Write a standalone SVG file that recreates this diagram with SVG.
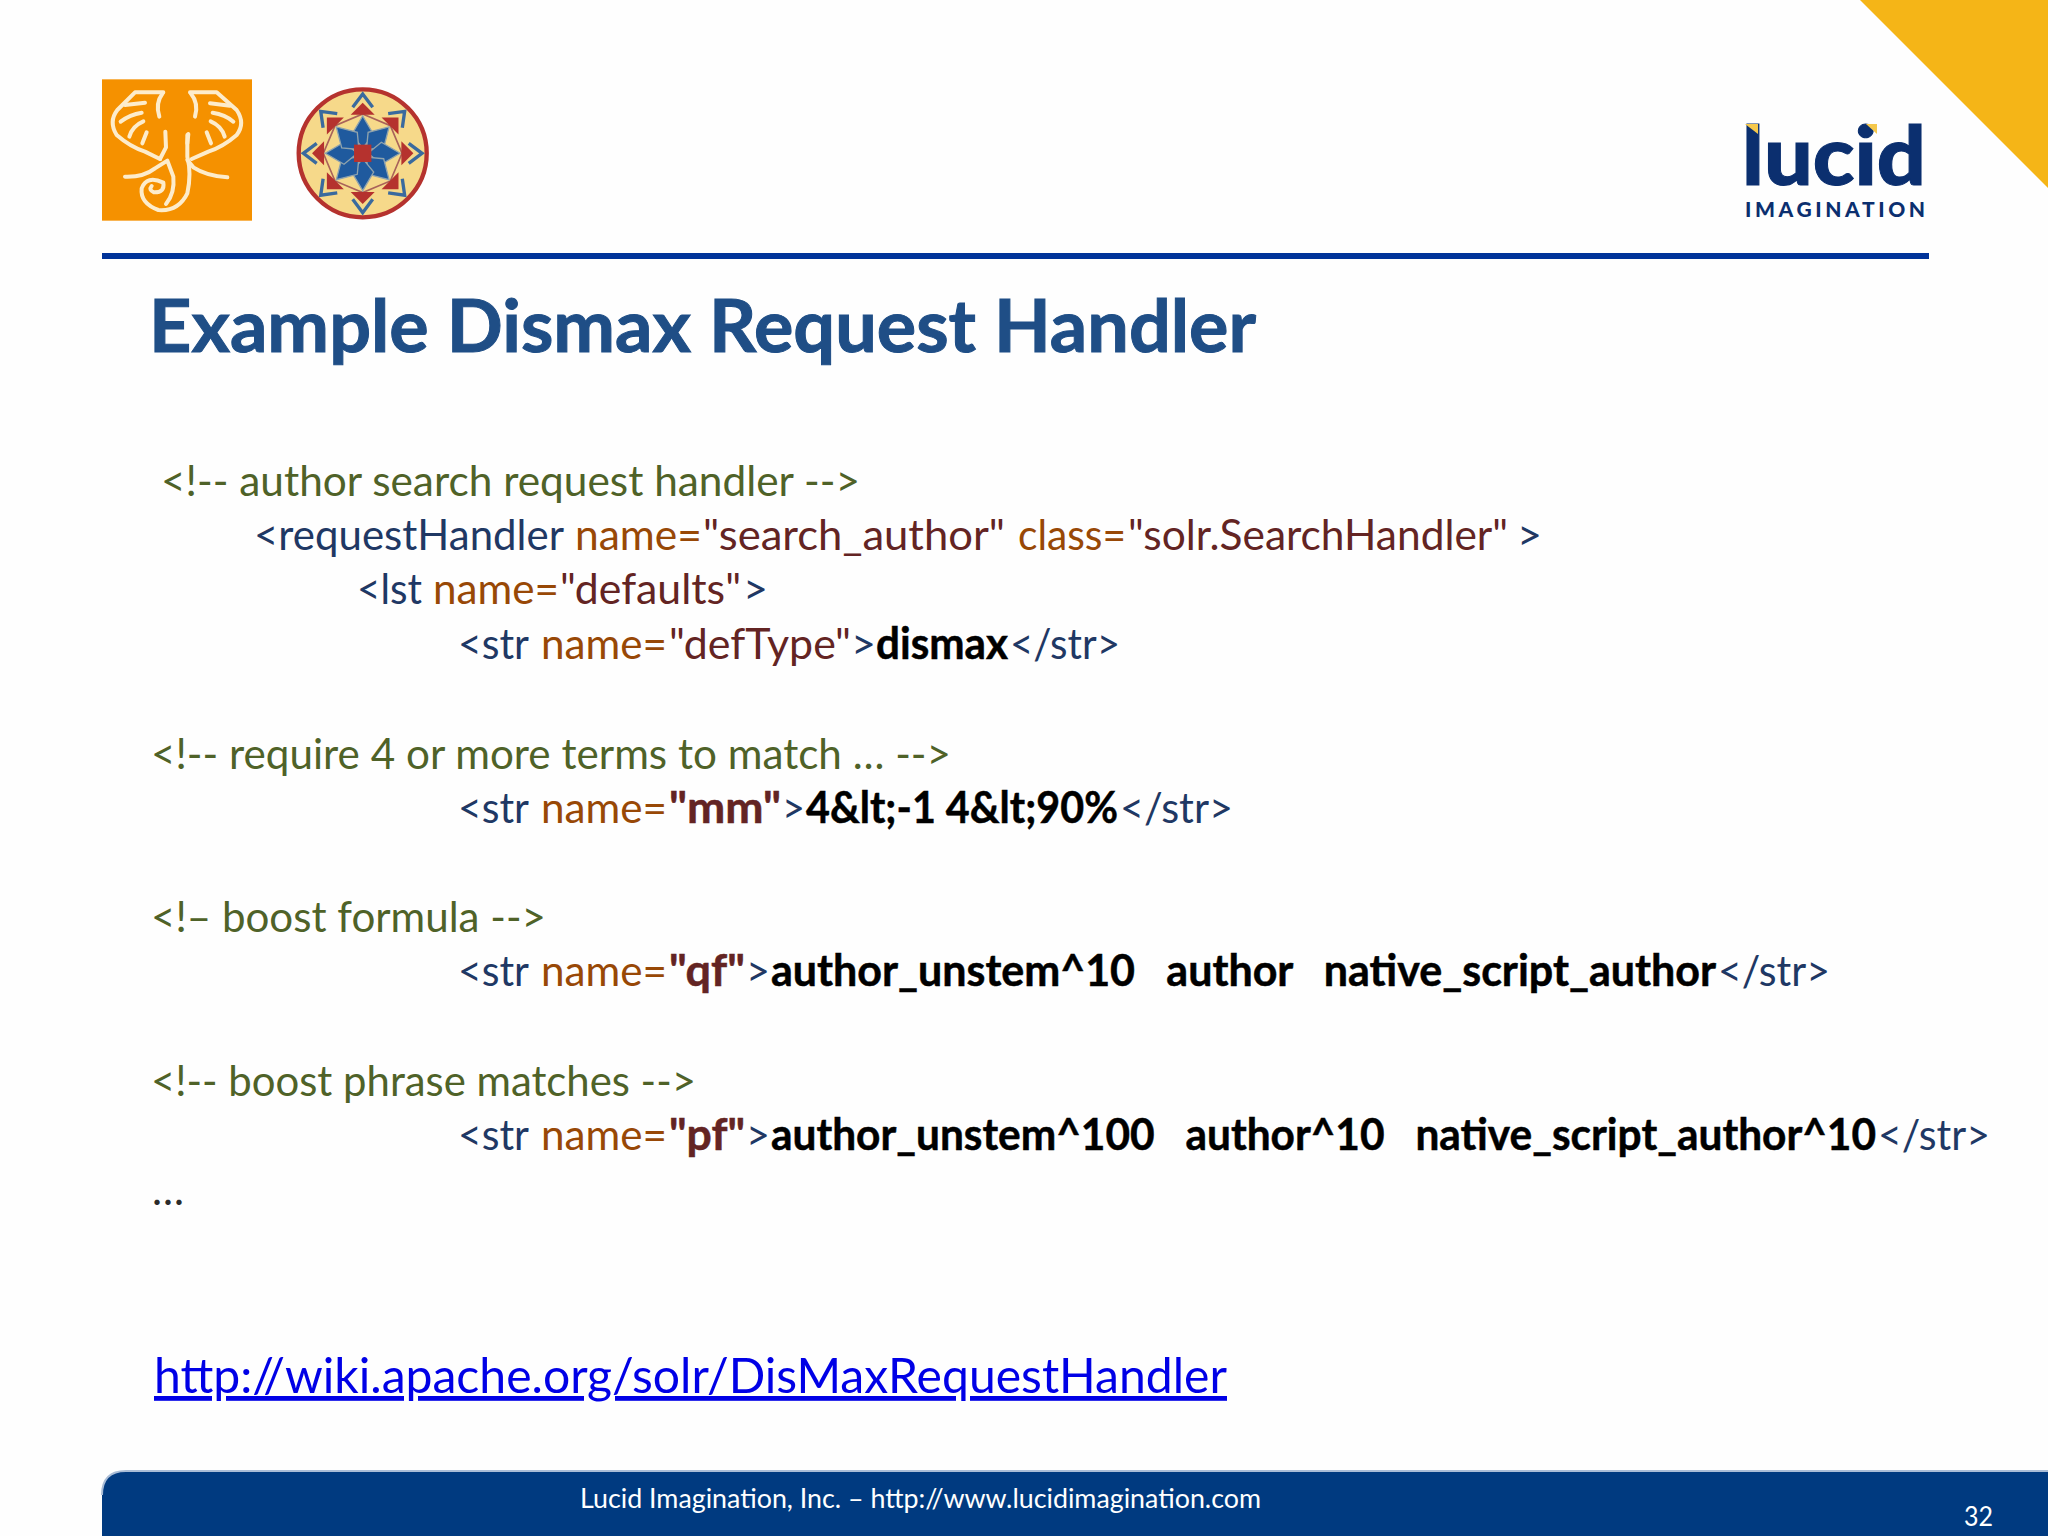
<svg xmlns="http://www.w3.org/2000/svg" width="2048" height="1536" viewBox="0 0 2048 1536">
<style>
text{font-family:"Lato","Carlito","Open Sans",sans-serif;white-space:pre}
.b{font-size:43px}
.c{fill:#4f6228}.t{fill:#1f3864}.a{fill:#984806}.v{fill:#632423}.k{fill:#000;font-weight:700;stroke:#000;stroke-width:.5px}.vb{fill:#632423;font-weight:700;stroke:#632423;stroke-width:.5px}
.ele{fill:none;stroke:#fdeccb;stroke-width:12;stroke-linecap:round;stroke-linejoin:round}
</style>
<defs>
<g id="m-pet"><polygon points="0,-16 -33,-56 0,-112 33,-56" fill="#1f5a9e" stroke="#8fa3ad" stroke-width="4"/></g>
<g id="m-spk">
<polygon points="0,-152 -36,-116 36,-116" fill="#b5322e"/>
<path d="M-30,-138 L0,-178 L30,-138" fill="none" stroke="#3a6a9e" stroke-width="10"/>
</g>
</defs>
<rect width="2048" height="1536" fill="#fefefe"/>
<polygon id="corner" points="1860,0 2048,0 2048,188" fill="#f5b517"/>

<g id="elephant" transform="translate(80,60) scale(.33333)">
<rect x="66" y="58" width="450" height="424" fill="#f59100"/>
<path class="ele" d="M250,97 L165,97 L112,150 Q85,185 110,225 Q150,260 195,275 L240,297"/>
<path class="ele" d="M248,100 Q225,130 238,170 M256,215 L258,262 L240,297"/>
<path class="ele" d="M135,135 L195,128 M122,185 Q150,163 185,158 M148,230 Q157,198 190,184 M187,250 L200,217"/>
<path class="ele" d="M135,350 Q190,352 225,325 L262,302 L280,350 Q285,400 258,432"/>
<path class="ele" d="M322,225 L322,290 Q335,340 322,400 Q295,455 235,450 Q180,430 185,385 Q200,345 250,368 Q255,398 222,397 Q205,390 215,378"/>
<path class="ele" d="M330,97 L410,97 L470,150 Q497,190 470,225 Q430,260 385,275 L335,297"/>
<path class="ele" d="M332,100 Q357,130 345,170 M325,222 L322,250"/>
<path class="ele" d="M390,130 L450,137 M398,158 Q435,163 460,185 M392,184 Q425,198 434,230 M380,217 L393,250"/>
<path class="ele" d="M442,352 Q380,348 340,322 L322,300"/>
</g>

<g id="medallion" transform="translate(362.7,153.3) scale(.33333)">
<circle r="192" fill="#f6d98a" stroke="#b5322e" stroke-width="13"/>
<polygon points="0,-118 83,-83 118,0 83,83 0,118 -83,83 -118,0 -83,-83" fill="none" stroke="#a9625a" stroke-width="5"/>
<use href="#m-spk"/><use href="#m-spk" transform="rotate(45)"/><use href="#m-spk" transform="rotate(90)"/><use href="#m-spk" transform="rotate(135)"/><use href="#m-spk" transform="rotate(180)"/><use href="#m-spk" transform="rotate(225)"/><use href="#m-spk" transform="rotate(270)"/><use href="#m-spk" transform="rotate(315)"/>
<use href="#m-pet"/><use href="#m-pet" transform="rotate(45)"/><use href="#m-pet" transform="rotate(90)"/><use href="#m-pet" transform="rotate(135)"/><use href="#m-pet" transform="rotate(180)"/><use href="#m-pet" transform="rotate(225)"/><use href="#m-pet" transform="rotate(270)"/><use href="#m-pet" transform="rotate(315)"/>
<rect x="-26" y="-26" width="52" height="52" fill="#b5322e"/>
</g>

<g id="logo">
<text x="1742" y="185" font-size="82" font-weight="900" fill="#0b2f6f" stroke="#0b2f6f" stroke-width="1" textLength="184" lengthAdjust="spacingAndGlyphs">lucid</text>
<polygon points="1745,124 1758,124 1758,134" fill="#f5c84c"/>
<polygon points="1866,124 1877,124 1877,134" fill="#f5c84c"/>
<text x="1745" y="217" font-size="21" font-weight="900" fill="#0b2f6f" textLength="180" lengthAdjust="spacing">IMAGINATION</text>
</g>

<rect id="rule" x="102" y="253" width="1827" height="6" fill="#003399"/>

<text id="title" x="149" y="352" font-size="72" font-weight="700" fill="#1f4e86" stroke="#1f4e86" stroke-width="1" textLength="1107" lengthAdjust="spacingAndGlyphs">Example Dismax Request Handler</text>

<g id="code">
<text class="b c" x="161" y="496" textLength="699" lengthAdjust="spacingAndGlyphs">&lt;!-- author search request handler --&gt;</text>

<text class="b t" x="254" y="550" textLength="310" lengthAdjust="spacingAndGlyphs">&lt;requestHandler</text>
<text class="b a" x="575" y="550" textLength="127" lengthAdjust="spacingAndGlyphs">name=</text>
<text class="b v" x="703" y="550" textLength="302" lengthAdjust="spacingAndGlyphs">"search_author"</text>
<text class="b a" x="1018" y="550" textLength="108" lengthAdjust="spacingAndGlyphs">class=</text>
<text class="b v" x="1128" y="550" textLength="380" lengthAdjust="spacingAndGlyphs">"solr.SearchHandler"</text>
<text class="b t" x="1517" y="550" textLength="25" lengthAdjust="spacingAndGlyphs">&gt;</text>

<text class="b t" x="357" y="604" textLength="65" lengthAdjust="spacingAndGlyphs">&lt;lst</text>
<text class="b a" x="433" y="604" textLength="126" lengthAdjust="spacingAndGlyphs">name=</text>
<text class="b v" x="560" y="604" textLength="181" lengthAdjust="spacingAndGlyphs">"defaults"</text>
<text class="b t" x="743" y="604" textLength="25" lengthAdjust="spacingAndGlyphs">&gt;</text>

<text class="b t" x="458" y="659" textLength="71" lengthAdjust="spacingAndGlyphs">&lt;str</text>
<text class="b a" x="541" y="659" textLength="126" lengthAdjust="spacingAndGlyphs">name=</text>
<text class="b v" x="669" y="659" textLength="182" lengthAdjust="spacingAndGlyphs">"defType"</text>
<text class="b t" x="851" y="659" textLength="25" lengthAdjust="spacingAndGlyphs">&gt;</text>
<text class="b k" x="876" y="659" textLength="132" lengthAdjust="spacingAndGlyphs">dismax</text>
<text class="b t" x="1010" y="659" textLength="110" lengthAdjust="spacingAndGlyphs">&lt;/str&gt;</text>

<text class="b c" x="151" y="769" textLength="800" lengthAdjust="spacingAndGlyphs">&lt;!-- require 4 or more terms to match … --&gt;</text>

<text class="b t" x="458" y="823" textLength="71" lengthAdjust="spacingAndGlyphs">&lt;str</text>
<text class="b a" x="541" y="823" textLength="126" lengthAdjust="spacingAndGlyphs">name=</text>
<text class="b vb" x="669" y="823" textLength="112" lengthAdjust="spacingAndGlyphs">"mm"</text>
<text class="b t" x="782" y="823" textLength="23" lengthAdjust="spacingAndGlyphs">&gt;</text>
<text class="b k" x="806" y="823" textLength="312" lengthAdjust="spacingAndGlyphs">4&amp;lt;-1 4&amp;lt;90%</text>
<text class="b t" x="1120" y="823" textLength="113" lengthAdjust="spacingAndGlyphs">&lt;/str&gt;</text>

<text class="b c" x="151" y="932" textLength="395" lengthAdjust="spacingAndGlyphs">&lt;!– boost formula --&gt;</text>

<text class="b t" x="458" y="986" textLength="71" lengthAdjust="spacingAndGlyphs">&lt;str</text>
<text class="b a" x="541" y="986" textLength="126" lengthAdjust="spacingAndGlyphs">name=</text>
<text class="b vb" x="669" y="986" textLength="76" lengthAdjust="spacingAndGlyphs">"qf"</text>
<text class="b t" x="746" y="986" textLength="24" lengthAdjust="spacingAndGlyphs">&gt;</text>
<text class="b k" x="771" y="986" textLength="945" lengthAdjust="spacingAndGlyphs">author_unstem^10   author   native_script_author</text>
<text class="b t" x="1718" y="986" textLength="112" lengthAdjust="spacingAndGlyphs">&lt;/str&gt;</text>

<text class="b c" x="151" y="1096" textLength="545" lengthAdjust="spacingAndGlyphs">&lt;!-- boost phrase matches --&gt;</text>

<text class="b t" x="458" y="1150" textLength="71" lengthAdjust="spacingAndGlyphs">&lt;str</text>
<text class="b a" x="541" y="1150" textLength="126" lengthAdjust="spacingAndGlyphs">name=</text>
<text class="b vb" x="669" y="1150" textLength="76" lengthAdjust="spacingAndGlyphs">"pf"</text>
<text class="b t" x="746" y="1150" textLength="24" lengthAdjust="spacingAndGlyphs">&gt;</text>
<text class="b k" x="771" y="1150" textLength="1105" lengthAdjust="spacingAndGlyphs">author_unstem^100   author^10   native_script_author^10</text>
<text class="b t" x="1878" y="1150" textLength="112" lengthAdjust="spacingAndGlyphs">&lt;/str&gt;</text>

<text class="b" x="152" y="1205" style="fill:#2b2b2b" textLength="32" lengthAdjust="spacingAndGlyphs">…</text>
</g>

<text id="link" x="154" y="1393" font-size="48" fill="#0000e6" text-decoration="underline" textLength="1073" lengthAdjust="spacingAndGlyphs">http://wiki.apache.org/solr/DisMaxRequestHandler</text>

<g id="footer">
<path d="M102,1536 V1495 Q102,1471 126,1471 H2048 V1536 Z" fill="#003a80"/>
<path d="M102,1495 Q102,1471 126,1471 H2048" fill="none" stroke="#a9bcd6" stroke-width="2"/>
<text x="580" y="1508" font-size="27" fill="#fff" textLength="681" lengthAdjust="spacingAndGlyphs">Lucid Imagination, Inc. – http://www.lucidimagination.com</text>
<text x="1964" y="1526" font-size="27" fill="#fff" textLength="29" lengthAdjust="spacingAndGlyphs">32</text>
</g>
</svg>
